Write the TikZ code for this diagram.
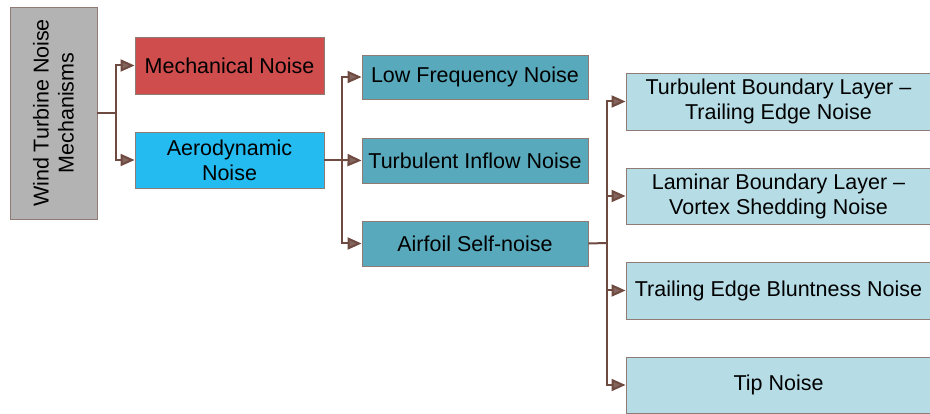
\documentclass[tikz,border=0pt]{standalone}
\usepackage{fontspec}
\setmainfont{Liberation Sans}
\usetikzlibrary{arrows.meta}
\definecolor{rootgray}{HTML}{B3B3B3}
\definecolor{mechred}{HTML}{CF4D4D}
\definecolor{aerocyan}{HTML}{24BBF0}
\definecolor{midteal}{HTML}{58A9BB}
\definecolor{lightteal}{HTML}{B6DDE6}
\definecolor{edgebrown}{HTML}{8F7B73}
\definecolor{linebrown}{HTML}{6E4A40}
\begin{document}
\begin{tikzpicture}[x=1pt,y=-1pt,
  box/.style={draw=edgebrown,line width=0.9pt,inner sep=0pt,align=center,
    font=\fontsize{21.5}{25}\selectfont,text=black},
  trunk/.style={draw=linebrown,line width=2pt},
  conn/.style={trunk,
    -{Triangle[length=14pt,width=12pt,fill=linebrown!85!white]}}]
\useasboundingbox (0,0) rectangle (930,414);
\node[box,fill=rootgray,rotate=90,minimum width=212pt,minimum height=87pt] (root) at (53.5,113) {Wind Turbine Noise\\Mechanisms};
\node[box,fill=mechred,minimum width=189pt,minimum height=57pt] (mech) at (229.5,65.5) {Mechanical Noise};
\node[box,fill=aerocyan,minimum width=189pt,minimum height=56pt] (aero) at (229.5,160) {Aerodynamic\\Noise};
\node[box,fill=midteal,minimum width=226pt,minimum height=44pt] (low) at (475,77) {Low Frequency Noise};
\node[box,fill=midteal,minimum width=226pt,minimum height=45pt] (tin) at (475,160.5) {Turbulent Inflow Noise};
\node[box,fill=midteal,minimum width=226pt,minimum height=45pt] (air) at (475,243.5) {Airfoil Self-noise};
\node[box,fill=lightteal,minimum width=305pt,minimum height=57pt] (tbl) at (778.5,101.5) {Turbulent Boundary Layer --\\Trailing Edge Noise};
\node[box,fill=lightteal,minimum width=305pt,minimum height=56pt] (lbl) at (778.5,196) {Laminar Boundary Layer --\\Vortex Shedding Noise};
\node[box,fill=lightteal,minimum width=305pt,minimum height=57pt] (teb) at (778.5,290.5) {Trailing Edge Bluntness Noise};
\node[box,fill=lightteal,minimum width=305pt,minimum height=56pt] (tip) at (778.5,385) {Tip Noise};
\coordinate (j1) at (116,113);
\coordinate (j2) at (342,160);
\coordinate (j3) at (607,243);
\draw[trunk] (root.south) -- (j1);
\draw[conn] (j1) |- (mech.west);
\draw[conn] (j1) |- (aero.west);
\draw[trunk] (aero.east) -- (j2);
\draw[conn] (j2) |- (low.west);
\draw[conn] (j2) -- (tin.west);
\draw[conn] (j2) |- (air.west);
\draw[trunk] (air.east) -- (j3);
\draw[conn] (j3) |- (tbl.west);
\draw[conn] (j3) |- (lbl.west);
\draw[conn] (j3) |- (teb.west);
\draw[conn] (j3) |- (tip.west);
\end{tikzpicture}
\end{document}
